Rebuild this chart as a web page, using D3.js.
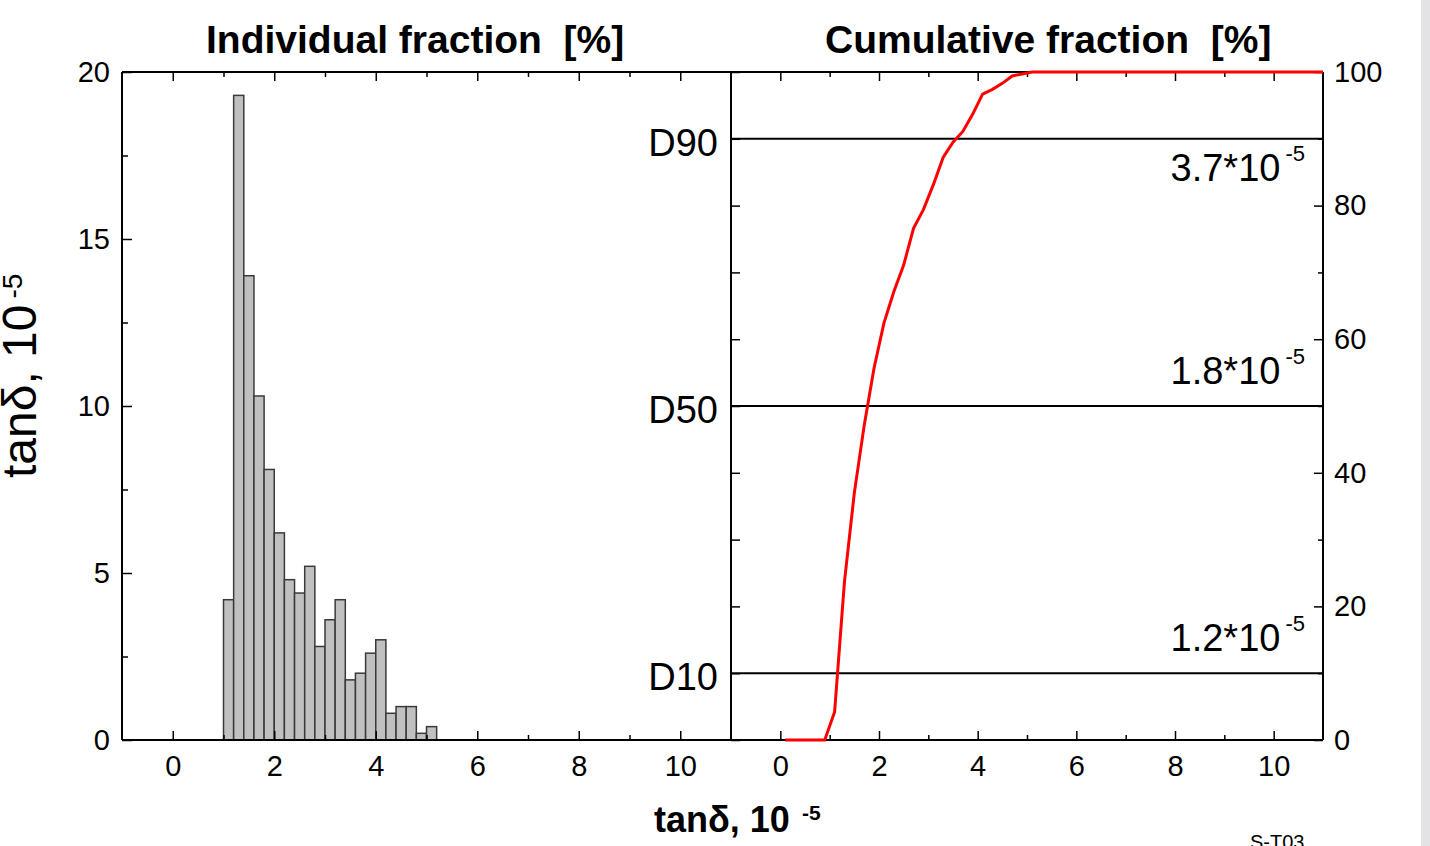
<!DOCTYPE html>
<html>
<head>
<meta charset="utf-8">
<title>tan delta distribution</title>
<script src="https://cdn.jsdelivr.net/npm/d3@7"></script>
<style>
  html, body { margin: 0; padding: 0; background: #fff; overflow: hidden; }
  svg { display: block; font-family: "Liberation Sans", Arial, sans-serif; }
  .tick line { stroke: #000; stroke-width: 1.5px; }
  .tick text { font-size: 29px; fill: #000; font-family: "Liberation Sans", Arial, sans-serif; }
  .domain { display: none; }
  .pre { white-space: pre; }
</style>
</head>
<body>
<svg id="chart" width="1430" height="846"></svg>
<script>
// histogram: lower edge of each 0.2-wide bin and share of samples [%]
var binStart = [1.0, 1.2, 1.4, 1.6, 1.8, 2.0, 2.2, 2.4, 2.6, 2.8, 3.0,
                3.2, 3.4, 3.6, 3.8, 4.0, 4.2, 4.4, 4.6, 4.8, 5.0];
var binPct   = [4.2, 19.3, 13.9, 10.3, 8.1, 6.2, 4.8, 4.4, 5.2, 2.8, 3.6,
                4.2, 1.8, 2.0, 2.6, 3.0, 0.8, 1.0, 1.0, 0.2, 0.4];
var binWidth = 0.2;

// cumulative curve
var cumX   = [0.1, 0.3, 0.5, 0.7, 0.9, 1.1, 1.3, 1.5, 1.7, 1.9, 2.1, 2.3, 2.5, 2.7,
              2.9, 3.1, 3.3, 3.5, 3.7, 3.9, 4.1, 4.3, 4.5, 4.7, 4.9, 5.1, 11];
var cumPct = [0, 0, 0, 0, 0, 4.2, 23.7, 37.0, 47.1, 55.7, 62.4, 67.1, 71.1, 76.6,
              79.4, 83.1, 87.2, 89.5, 91.1, 93.7, 96.7, 97.4, 98.3, 99.4, 99.7, 100, 100];

// D10 / D50 / D90 markers
var dLevel = [10, 50, 90];
var dName  = ['D10', 'D50', 'D90'];
var dValue = ['1.2', '1.8', '3.7'];

var xTicks     = [0, 2, 4, 6, 8, 10];
var xMinor     = [1, 3, 5, 7, 9];
var leftTicks  = [0, 5, 10, 15, 20];
var leftMinor  = [2.5, 7.5, 12.5, 17.5];
var rightTicks = [0, 20, 40, 60, 80, 100];
var rightMinor = [10, 30, 50, 70, 90];

var svg = d3.select('#chart');

var xL = d3.scaleLinear().domain([-1, 11]).range([122, 731]);
var xR = d3.scaleLinear().domain([-1, 11]).range([731, 1323]);
var yL = d3.scaleLinear().domain([0, 20]).range([740, 72]);
var yR = d3.scaleLinear().domain([0, 100]).range([740, 72]);

// gray strip at the right edge of the page
svg.append('rect').attr('x', 1421).attr('y', 0).attr('width', 9).attr('height', 846)
    .attr('fill', '#e3e3e5');

// bars
svg.append('g').selectAll('rect')
    .data(binPct)
    .enter()
    .append('rect')
    .attr('x', function(d, i) { return xL(binStart[i]); })
    .attr('width', function(d, i) { return xL(binStart[i] + binWidth) - xL(binStart[i]); })
    .attr('y', function(d) { return yL(d); })
    .attr('height', function(d) { return yL(0) - yL(d); })
    .attr('fill', '#c0c0c0')
    .attr('stroke', '#3a3a3a')
    .attr('stroke-width', 1.5);

// axes (ticks inward, frame drawn separately)
function addAxis(axis, tx, ty) {
    svg.append('g').attr('transform', 'translate(' + tx + ',' + ty + ')').call(axis);
}
[xL, xR].forEach(function(sc) {
    addAxis(d3.axisBottom(sc).tickValues(xTicks).tickSize(-9).tickSizeOuter(0).tickPadding(15), 0, 740);
    addAxis(d3.axisBottom(sc).tickValues(xMinor).tickSize(-5).tickSizeOuter(0).tickFormat(''), 0, 740);
    addAxis(d3.axisTop(sc).tickValues(xTicks).tickSize(-9).tickSizeOuter(0).tickFormat(''), 0, 72);
    addAxis(d3.axisTop(sc).tickValues(xMinor).tickSize(-5).tickSizeOuter(0).tickFormat(''), 0, 72);
});
addAxis(d3.axisLeft(yL).tickValues(leftTicks).tickSize(-10).tickSizeOuter(0).tickPadding(12), 122, 0);
addAxis(d3.axisLeft(yL).tickValues(leftMinor).tickSize(-6).tickSizeOuter(0).tickFormat(''), 122, 0);
addAxis(d3.axisRight(yR).tickValues(rightTicks.concat(rightMinor)).tickSize(9).tickSizeOuter(0).tickFormat(''), 731, 0);
addAxis(d3.axisRight(yR).tickValues(rightTicks).tickSize(-9).tickSizeOuter(0).tickPadding(11), 1323, 0);
addAxis(d3.axisRight(yR).tickValues(rightMinor).tickSize(-5).tickSizeOuter(0).tickFormat(''), 1323, 0);

// frame
var frame = svg.append('g').attr('stroke', '#000').attr('stroke-width', 2);
frame.append('line').attr('x1', xL(-1)).attr('x2', xR(11)).attr('y1', yL(20)).attr('y2', yL(20));
frame.append('line').attr('x1', xL(-1)).attr('x2', xR(11)).attr('y1', yL(0)).attr('y2', yL(0));
[xL(-1), xR(-1), xR(11)].forEach(function(x) {
    frame.append('line').attr('x1', x).attr('x2', x).attr('y1', yL(0)).attr('y2', yL(20));
});

// D-level lines and labels
dLevel.forEach(function(lv, i) {
    var y = yR(lv);
    svg.append('line').attr('x1', xR(-1)).attr('x2', xR(11)).attr('y1', y).attr('y2', y)
        .attr('stroke', '#000').attr('stroke-width', 2);
    svg.append('text').attr('x', 718).attr('y', y + 17).attr('text-anchor', 'end')
        .attr('font-size', 38).text(dName[i]);
    var t = svg.append('text').attr('x', 1305).attr('y', lv > 80 ? y + 42 : y - 22)
        .attr('text-anchor', 'end').attr('font-size', 38);
    t.append('tspan').text(dValue[i] + '*10');
    t.append('tspan').attr('font-size', 22).attr('dx', 5).attr('dy', -20).text('-5');
});

// cumulative curve
svg.append('path')
    .datum(cumPct)
    .attr('fill', 'none')
    .attr('stroke', '#ff0000')
    .attr('stroke-width', 3)
    .attr('d', d3.line()
        .x(function(d, i) { return xR(cumX[i]); })
        .y(function(d) { return yR(d); }));

// titles
svg.append('text').attr('class', 'pre').attr('x', 206).attr('y', 53)
    .attr('font-size', 39).attr('font-weight', 'bold').text('Individual fraction  [%]');
svg.append('text').attr('class', 'pre').attr('x', 825).attr('y', 53)
    .attr('font-size', 39).attr('font-weight', 'bold').text('Cumulative fraction  [%]');

// x axis label
var xl = svg.append('text').attr('x', 654).attr('y', 832)
    .attr('font-size', 36).attr('font-weight', 'bold');
xl.append('tspan').text('tan\u03b4, 10');
xl.append('tspan').attr('font-size', 21).attr('dx', 12).attr('dy', -12).text('-5');

// y axis label (clipped by the page edge, as in the original)
var yl = svg.append('text').attr('transform', 'translate(36,478) rotate(-90)')
    .attr('font-size', 48);
yl.append('tspan').text('tan\u03b4, 10');
yl.append('tspan').attr('font-size', 28).attr('dx', 6).attr('dy', -14).text('-5');

// sheet id
svg.append('text').attr('x', 1250).attr('y', 849).attr('font-size', 20).text('S-T03');
</script>
</body>
</html>
